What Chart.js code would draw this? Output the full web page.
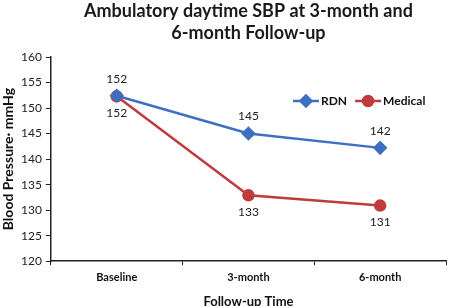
<!DOCTYPE html>
<html>
<head>
<meta charset="utf-8">
<script src="https://cdn.jsdelivr.net/npm/chart.js@4/dist/chart.umd.min.js"></script>
<style>
  html, body { margin: 0; padding: 0; background: #fff; }
  #wrap { width: 454px; height: 306px; }
</style>
</head>
<body>
<div id="wrap"><canvas id="sbpChart" width="454" height="306"></canvas></div>
<script>
const categories = ['Baseline', '3-month', '6-month'];
const rdnValues = [152.4, 145.0, 142.2];
const medicalValues = [152.3, 132.9, 130.9];
const yTicks = [120, 125, 130, 135, 140, 145, 150, 155, 160];
const titleLines = ['Ambulatory daytime SBP at 3-month and', '6-month Follow-up'];

const FONT = 'Lato, "Open Sans", sans-serif';
const BLUE = '#3d6fc2';
const RED = '#bf3b3c';

// title centred over the plot area rather than the whole canvas
const plotTitle = {
  id: 'plotTitle',
  afterDraw(chart) {
    const ctx = chart.ctx;
    const cx = (chart.chartArea.left + chart.chartArea.right) / 2;
    ctx.save();
    ctx.font = 'bold 18px ' + FONT;
    ctx.fillStyle = '#1a1a1a';
    ctx.textAlign = 'center';
    ctx.textBaseline = 'middle';
    titleLines.forEach((line, i) => ctx.fillText(line, cx, 11 + i * 22));
    ctx.restore();
  },
};

// value labels: RDN above the point, Medical below
const pointLabels = {
  id: 'pointLabels',
  afterDatasetsDraw(chart) {
    const ctx = chart.ctx;
    ctx.save();
    ctx.font = '12px ' + FONT;
    ctx.fillStyle = '#222';
    ctx.textAlign = 'center';
    ctx.textBaseline = 'middle';
    chart.data.datasets.forEach((ds, i) => {
      const meta = chart.getDatasetMeta(i);
      const offset = i === 0 ? -17 : 17;
      meta.data.forEach((pt, j) => {
        ctx.fillText(String(Math.round(ds.data[j])), pt.x, pt.y + offset);
      });
    });
    ctx.restore();
  },
};

// legend drawn inside the plot area, top right
const insideLegend = {
  id: 'insideLegend',
  afterDraw(chart) {
    const ctx = chart.ctx;
    let x = 293;
    const y = 101;
    ctx.save();
    ctx.font = 'bold 12px ' + FONT;
    ctx.textBaseline = 'middle';
    chart.data.datasets.forEach(ds => {
      ctx.strokeStyle = ds.borderColor;
      ctx.lineWidth = 2.5;
      ctx.beginPath();
      ctx.moveTo(x, y);
      ctx.lineTo(x + 26, y);
      ctx.stroke();
      Chart.helpers.drawPoint(ctx, {
        pointStyle: ds.pointStyle,
        radius: ds.pointRadius,
        borderWidth: 1,
      }, x + 13, y);
      ctx.fillStyle = ds.borderColor;
      ctx.fill();
      ctx.fillStyle = '#111';
      ctx.fillText(ds.label, x + 28, y);
      x += 28 + ctx.measureText(ds.label).width + 8;
    });
    ctx.restore();
  },
};

new Chart(document.getElementById('sbpChart'), {
  type: 'line',
  data: {
    labels: categories,
    datasets: [
      {
        label: 'RDN',
        data: rdnValues,
        borderColor: BLUE,
        backgroundColor: BLUE,
        borderWidth: 2.5,
        pointStyle: 'rectRot',
        pointRadius: 5.5,
        pointHoverRadius: 5.5,
        tension: 0,
      },
      {
        label: 'Medical',
        data: medicalValues,
        borderColor: RED,
        backgroundColor: RED,
        borderWidth: 2.5,
        pointStyle: 'circle',
        pointRadius: 5,
        pointHoverRadius: 5,
        tension: 0,
      },
    ],
  },
  options: {
    responsive: false,
    animation: false,
    layout: { padding: { left: 0, right: 2, top: 57, bottom: -4 } },
    plugins: {
      legend: { display: false },
      tooltip: { enabled: false },
      title: { display: false },
    },
    scales: {
      x: {
        offset: true,
        grid: { drawOnChartArea: false, offset: true, tickLength: 4, color: '#222' },
        border: { color: '#222', width: 1.5 },
        ticks: { color: '#111', font: { family: FONT, size: 11, weight: 'bold' }, padding: 6 },
        title: {
          display: true,
          text: 'Follow-up Time',
          color: '#111',
          font: { family: FONT, size: 13, weight: 'bold' },
          padding: { top: 4, bottom: 0 },
        },
      },
      y: {
        min: yTicks[0],
        max: yTicks[yTicks.length - 1],
        afterBuildTicks: axis => { axis.ticks = yTicks.map(v => ({ value: v })); },
        grid: { drawOnChartArea: false, tickLength: 5, color: '#222' },
        border: { color: '#222', width: 1.5 },
        ticks: { color: '#222', font: { family: FONT, size: 12 }, padding: 4 },
        title: {
          display: true,
          text: 'Blood Pressure· mmHg',
          color: '#111',
          font: { family: FONT, size: 14, weight: 'bold', lineHeight: 1 },
          padding: { top: 1, bottom: 2 },
        },
      },
    },
  },
  plugins: [plotTitle, pointLabels, insideLegend],
});
</script>
</body>
</html>
